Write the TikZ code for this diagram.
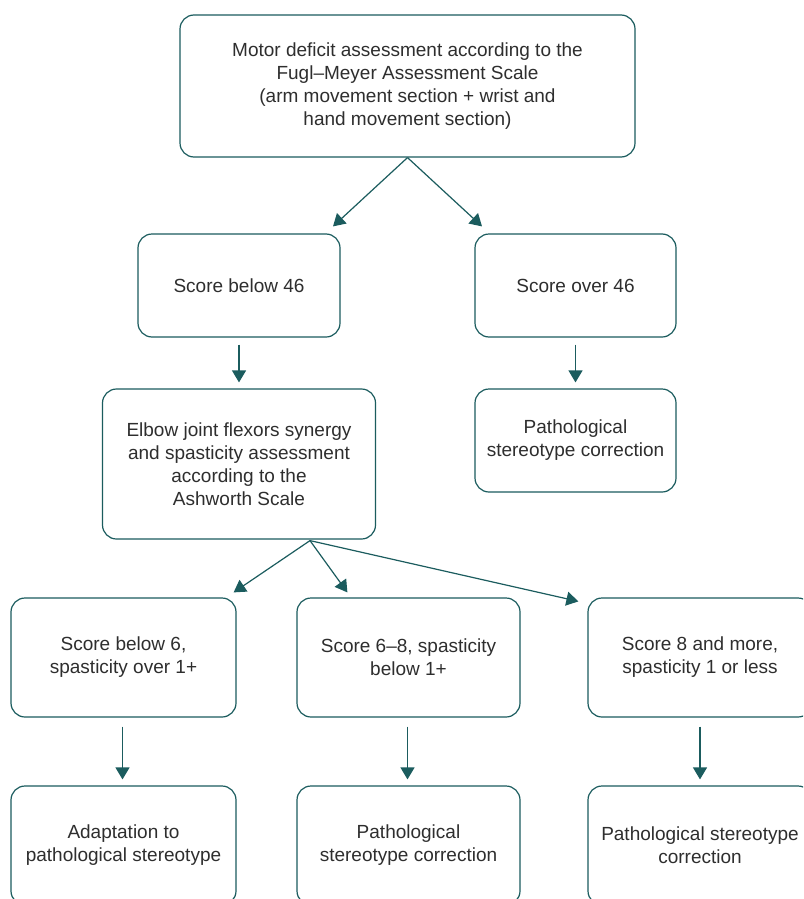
\documentclass[tikz,border=0pt]{standalone}
\usepackage{fontspec}
\setmainfont{Liberation Sans}
\usetikzlibrary{arrows.meta,calc}
\definecolor{tealline}{HTML}{1B5C5E}
\definecolor{txtgray}{HTML}{2E2E2E}
\begin{document}
\begin{tikzpicture}[x=1pt,y=-1pt,
  box/.style={draw=tealline, line width=1.2pt, rounded corners=14pt, inner sep=0pt,
    align=center, text=txtgray, font=\fontsize{19}{23}\selectfont},
  arr/.style={draw=tealline, line width=1.2pt, -{Triangle[width=14pt,length=12pt]}}]
\useasboundingbox (0,0) rectangle (803,899);
\clip (0,0) rectangle (803,899);
\fill[white] (0,0) rectangle (803,899);

\node[box, minimum width=455pt, minimum height=142pt] (top) at (407.5,86)
  {Motor deficit assessment according to the\\Fugl--Meyer Assessment Scale\\(arm movement section + wrist and\\hand movement section)};
\node[box, minimum width=202pt, minimum height=103pt] (s1) at (239,285.5) {Score below 46};
\node[box, minimum width=201pt, minimum height=103pt] (s2) at (575.5,285.5) {Score over 46};
\node[box, minimum width=273pt, minimum height=150pt] (elbow) at (239,464)
  {Elbow joint flexors synergy\\and spasticity assessment\\according to the\\Ashworth Scale};
\node[box, minimum width=201pt, minimum height=103pt] (p1) at (575.5,440.5) {Pathological\\stereotype correction};

\node[box, minimum width=225pt, minimum height=119pt] (b1) at (123.5,657.5) {Score below 6,\\spasticity over 1+};
\node[box, minimum width=223pt, minimum height=119pt] (b2) at (408.5,657.5) {Score 6--8, spasticity\\below 1+};
\node[box, minimum width=224pt, minimum height=119pt] (b3) at (700,657.5) {Score 8 and more,\\spasticity 1 or less};

\node[box, minimum width=225pt, minimum height=119pt] (c1) at (123.5,845.5) {Adaptation to\\pathological stereotype};
\node[box, minimum width=223pt, minimum height=119pt] (c2) at (408.5,845.5) {Pathological\\stereotype correction};
\node[box, minimum width=224pt, minimum height=119pt] (c3) at (700,845.5) {Pathological stereotype\\correction};

\draw[arr] (top.south) -- ($(s1.north)+(94,-7)$);
\draw[arr] (top.south) -- ($(s2.north)+(-93.5,-7)$);
\draw[arr] ($(s1.south)+(0,7)$) -- ($(elbow.north)+(0,-6)$);
\draw[arr] ($(s2.south)+(0,7)$) -- ($(p1.north)+(0,-6)$);
\coordinate (es) at ($(elbow.south)+(71,1)$);
\draw[arr] (es) -- ($(b1.north east)+(-3,-5)$);
\draw[arr] (es) -- ($(b2.north west)+(51,-5)$);
\draw[arr] (es) -- ($(b3.north west)+(-9,4)$);
\draw[arr] ($(b1.south)+(-1,9)$) -- ($(c1.north)+(-1,-6)$);
\draw[arr] ($(b2.south)+(-1,9)$) -- ($(c2.north)+(-1,-6)$);
\draw[arr] ($(b3.south)+(0,9)$) -- ($(c3.north)+(0,-6)$);
\end{tikzpicture}
\end{document}
